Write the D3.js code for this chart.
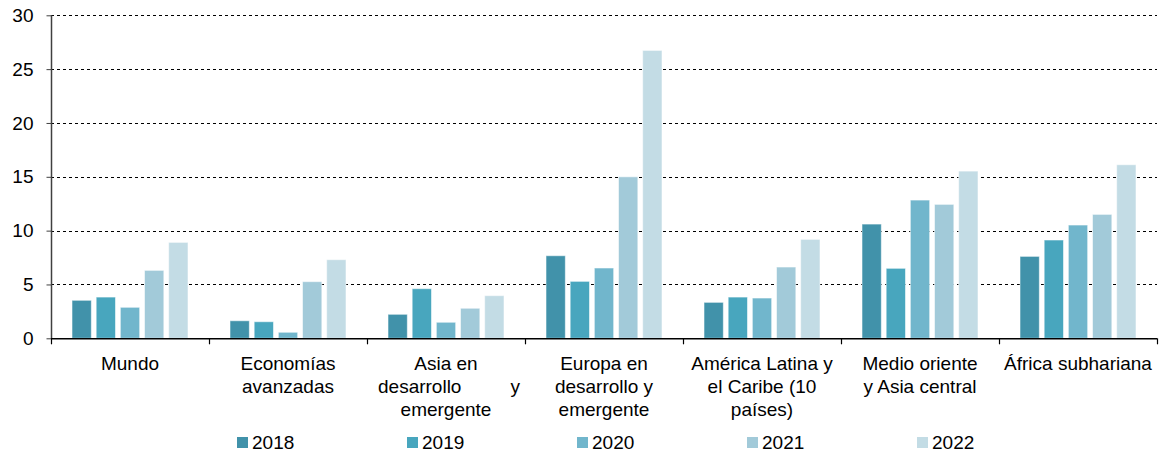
<!DOCTYPE html>
<html>
<head>
<meta charset="utf-8">
<script src="https://cdn.jsdelivr.net/npm/d3@7"></script>
<style>
  html, body { margin: 0; padding: 0; background: #fff; }
  svg { display: block; font-family: "Liberation Sans", Arial, sans-serif; }
</style>
</head>
<body>
<svg id="chart" width="1162" height="454"></svg>
<script>
const categories = [
  "Mundo",
  "Economías avanzadas",
  "Asia en desarrollo y emergente",
  "Europa en desarrollo y emergente",
  "América Latina y el Caribe (10 países)",
  "Medio oriente y Asia central",
  "África subhariana"
];
const categoryLines = [
  ["Mundo"],
  ["Economías", "avanzadas"],
  ["Asia en", ["desarrollo", "y"], "emergente"],
  ["Europa en", "desarrollo y", "emergente"],
  ["América Latina y", "el Caribe (10", "países)"],
  ["Medio oriente", "y Asia central"],
  ["África subhariana"]
];
const years = ["2018", "2019", "2020", "2021", "2022"];
const values2018 = [3.53, 1.63, 2.23, 7.67, 3.34, 10.61, 7.61];
const values2019 = [3.83, 1.54, 4.61, 5.29, 3.83, 6.50, 9.13];
const values2020 = [2.88, 0.56, 1.49, 6.53, 3.74, 12.84, 10.52];
const values2021 = [6.31, 5.26, 2.79, 15.0, 6.62, 12.44, 11.51];
const values2022 = [8.91, 7.30, 3.96, 26.74, 9.19, 15.53, 16.12];
const yTicks = [0, 5, 10, 15, 20, 25, 30];
const colors = ["#4192aa", "#48a6be", "#71b6cc", "#a2cad9", "#c3dce5"];

const seriesValues = [values2018, values2019, values2020, values2021, values2022];

const svg = d3.select("#chart");
const mLeft = 51, mRight = 1157, mTop = 15.3, mBottom = 338.3;

const x0 = d3.scaleBand().domain(categories).range([mLeft, mRight]).paddingInner(0).paddingOuter(0);
const x1 = d3.scaleBand().domain(years).range([21, x0.bandwidth() - 21]).paddingInner(0.2);
const y = d3.scaleLinear().domain([0, 30]).range([mBottom, mTop]);
const color = d3.scaleOrdinal().domain(years).range(colors);

// gridlines
svg.append("g")
  .selectAll("line")
  .data(yTicks.filter(d => d > 0))
  .join("line")
  .attr("x1", mLeft).attr("x2", mRight)
  .attr("y1", d => Math.round(y(d)) + 0.5).attr("y2", d => Math.round(y(d)) + 0.5)
  .attr("stroke", "#000").attr("stroke-width", 1).attr("stroke-dasharray", "3,3");

// bars
const groups = svg.append("g")
  .selectAll("g")
  .data(categories)
  .join("g")
  .attr("transform", d => `translate(${x0(d)},0)`);

groups.selectAll("rect")
  .data((c, ci) => years.map((yr, si) => ({ yr, v: seriesValues[si][ci] })))
  .join("rect")
  .attr("x", d => x1(d.yr))
  .attr("width", x1.bandwidth())
  .attr("y", d => y(d.v))
  .attr("height", d => mBottom - y(d.v))
  .attr("fill", d => color(d.yr))
  .attr("stroke", "rgba(255,255,255,0.55)")
  .attr("stroke-width", 1);

// y axis
const yAxis = d3.axisLeft(y).tickValues(yTicks).tickSize(5).tickPadding(13).tickFormat(d3.format("d"));
const gy = svg.append("g").attr("transform", `translate(${mLeft + 0.5},0)`).call(yAxis);
gy.select(".domain").attr("stroke", "#404040").attr("stroke-width", 1.5).attr("d", `M0,${mTop}V${mBottom}`);
gy.selectAll(".tick line").attr("stroke", "#404040");
gy.selectAll(".tick text").attr("font-size", 19).attr("fill", "#000")
  .attr("font-family", "'Liberation Sans', Arial, sans-serif");

// x axis line and ticks
const bounds = categories.map(c => x0(c)).concat([mRight]);
svg.append("line")
  .attr("x1", mLeft).attr("x2", mRight)
  .attr("y1", mBottom + 0.5).attr("y2", mBottom + 0.5)
  .attr("stroke", "#000").attr("stroke-width", 1.5);
svg.append("g").selectAll("line")
  .data(bounds)
  .join("line")
  .attr("x1", d => Math.round(d) + 0.5).attr("x2", d => Math.round(d) + 0.5)
  .attr("y1", mBottom).attr("y2", mBottom + 6)
  .attr("stroke", "#000").attr("stroke-width", 1.2);

// category labels
const labels = svg.append("g").attr("font-size", 19).attr("fill", "#000");
categories.forEach((c, ci) => {
  const cx = x0(c) + x0.bandwidth() / 2;
  categoryLines[ci].forEach((line, li) => {
    const by = 370 + li * 23;
    if (Array.isArray(line)) {
      labels.append("text").attr("x", cx - 68).attr("y", by).attr("text-anchor", "start").text(line[0]);
      labels.append("text").attr("x", cx + 74).attr("y", by).attr("text-anchor", "end").text(line[1]);
    } else {
      labels.append("text").attr("x", cx).attr("y", by).attr("text-anchor", "middle").text(line);
    }
  });
});

// legend
const legend = svg.append("g").selectAll("g")
  .data(years)
  .join("g")
  .attr("transform", (d, i) => `translate(${237 + i * 170},437)`);
legend.append("rect").attr("width", 11).attr("height", 11).attr("fill", d => color(d));
legend.append("text").attr("x", 15).attr("y", 12).attr("font-size", 19).attr("fill", "#000").text(d => d);
</script>
</body>
</html>
